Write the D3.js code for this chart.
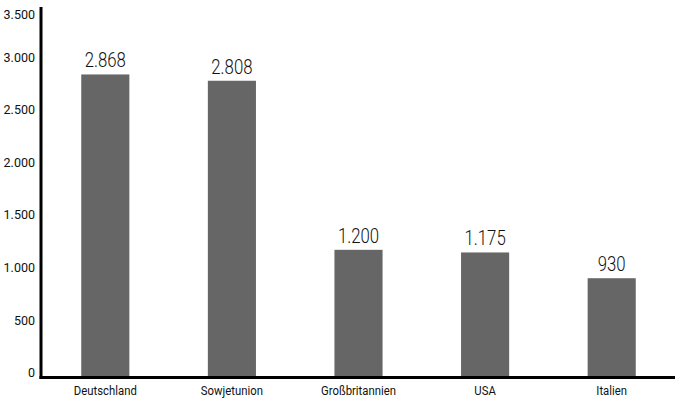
<!DOCTYPE html>
<html>
<head>
<meta charset="utf-8">
<script src="https://cdn.jsdelivr.net/npm/d3@7"></script>
<style>
  body { margin: 0; background: #fff; }
  text { font-family: Roboto, 'Liberation Sans', sans-serif; fill: #111; }
</style>
</head>
<body>
<div id="chart"></div>
<script>
const countries = ['Deutschland', 'Sowjetunion', 'Großbritannien', 'USA', 'Italien'];
const values = [2868, 2808, 1200, 1175, 930];
const yTicks = [0, 500, 1000, 1500, 2000, 2500, 3000, 3500];

const width = 675;
const height = 402;
const margin = { top: 8, right: 0, bottom: 26, left: 42 };
const fontFamily = "Roboto, 'Liberation Sans', sans-serif";

const svg = d3
  .select('#chart')
  .append('svg')
  .attr('width', width)
  .attr('height', height);

const fmt = (v) => d3.format(',')(v).replace(/,/g, '.');

const xScale = d3
  .scaleBand()
  .domain(countries)
  .range([margin.left, width - margin.right])
  .paddingInner(0.62)
  .paddingOuter(0.31);

const yScale = d3
  .scaleLinear()
  .domain([0, 3500])
  .range([height - margin.bottom, margin.top]);

// bars
svg
  .selectAll('.bar')
  .data(values)
  .enter()
  .append('rect')
  .attr('class', 'bar')
  .attr('x', (d, i) => xScale(countries[i]))
  .attr('y', (d) => yScale(d))
  .attr('width', xScale.bandwidth())
  .attr('height', (d) => yScale(0) - yScale(d))
  .attr('fill', '#666666');

// value labels (narrowed to mimic the condensed face)
svg
  .selectAll('.value')
  .data(values)
  .enter()
  .append('g')
  .attr('class', 'value')
  .attr(
    'transform',
    (d, i) =>
      `translate(${xScale(countries[i]) + xScale.bandwidth() / 2},${yScale(d) - 7}) scale(0.86,1)`
  )
  .append('text')
  .attr('text-anchor', 'middle')
  .style('font-size', '19.5px')
  .style('font-weight', 300)
  .text((d) => fmt(d));

// y axis
const yAxis = svg
  .append('g')
  .attr('class', 'y-axis')
  .attr('transform', `translate(${margin.left - 1},0)`)
  .call(d3.axisLeft(yScale).tickValues(yTicks).tickSize(0).tickPadding(6).tickFormat(fmt));

yAxis.select('.domain').remove();
yAxis
  .selectAll('text')
  .attr('dy', (d) => (d === 3500 ? '0.8em' : '0.05em'))
  .style('font-size', '12.5px')
  .style('font-family', fontFamily)
  .style('fill', '#111');

// x axis
const xAxis = svg
  .append('g')
  .attr('class', 'x-axis')
  .attr('transform', `translate(0,${yScale(0) + 1})`)
  .call(d3.axisBottom(xScale).tickSize(0).tickPadding(8));

xAxis.select('.domain').remove();
xAxis
  .selectAll('text')
  .attr('transform', 'scale(0.84,1)')
  .style('font-size', '13.5px')
  .style('font-family', fontFamily)
  .style('fill', '#111');

// axis lines
svg
  .append('line')
  .attr('x1', margin.left - 1)
  .attr('x2', margin.left - 1)
  .attr('y1', margin.top - 1)
  .attr('y2', yScale(0) + 3)
  .attr('stroke', '#000')
  .attr('stroke-width', 3);

svg
  .append('line')
  .attr('x1', margin.left - 2.5)
  .attr('x2', width)
  .attr('y1', yScale(0) + 1.5)
  .attr('y2', yScale(0) + 1.5)
  .attr('stroke', '#000')
  .attr('stroke-width', 3);
</script>
</body>
</html>
